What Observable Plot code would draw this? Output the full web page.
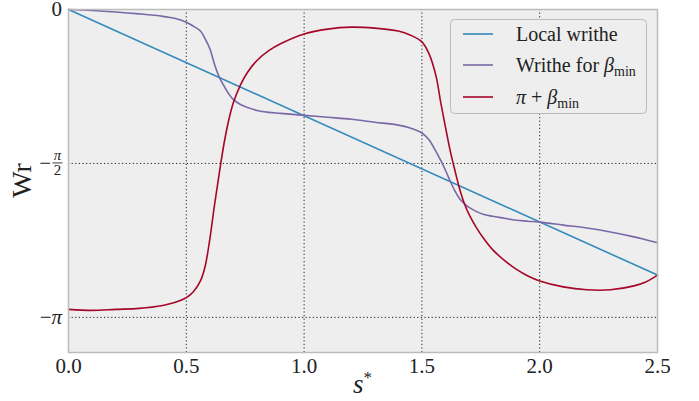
<!DOCTYPE html>
<html><head><meta charset="utf-8">
<script src="https://cdn.jsdelivr.net/npm/d3@7"></script>
<script src="https://cdn.jsdelivr.net/npm/@observablehq/plot@0.6"></script>
<style>body{margin:0;background:#fff}</style>
</head><body><div id="chart"></div>
<script>
const sGrid = [0,0.1,0.2,0.3,0.4,0.45,0.5,0.53,0.56,0.58,0.6,0.62,0.64,0.66,0.68,0.7,0.73,0.76,0.8,0.85,0.9,1.0,1.1,1.2,1.3,1.4,1.45,1.5,1.53,1.56,1.58,1.6,1.62,1.64,1.66,1.68,1.7,1.73,1.76,1.8,1.85,1.9,1.95,2.0,2.1,2.2,2.3,2.4,2.45,2.5];
const writheBeta = [0,-0.01,-0.025,-0.045,-0.07,-0.09,-0.13,-0.17,-0.22,-0.30,-0.40,-0.56,-0.69,-0.78,-0.86,-0.92,-0.97,-1.00,-1.03,-1.05,-1.06,-1.08,-1.10,-1.12,-1.15,-1.18,-1.21,-1.26,-1.33,-1.45,-1.54,-1.64,-1.75,-1.85,-1.93,-1.98,-2.02,-2.06,-2.09,-2.11,-2.13,-2.15,-2.16,-2.17,-2.20,-2.23,-2.27,-2.32,-2.35,-2.38];
const piBeta = [-3.06,-3.07,-3.06,-3.05,-3.02,-2.99,-2.94,-2.88,-2.77,-2.62,-2.34,-1.99,-1.67,-1.37,-1.13,-0.95,-0.77,-0.64,-0.52,-0.42,-0.35,-0.25,-0.20,-0.18,-0.19,-0.22,-0.26,-0.33,-0.45,-0.68,-0.95,-1.20,-1.44,-1.64,-1.83,-1.98,-2.09,-2.22,-2.33,-2.45,-2.56,-2.65,-2.72,-2.77,-2.83,-2.86,-2.86,-2.82,-2.78,-2.71];
const localS = [0, 2.5];
const localWr = [0, -2.71];
const xTicks = [0, 0.5, 1.0, 1.5, 2.0, 2.5];
const yTicks = [0, -Math.PI/2, -Math.PI];
const seriesNames = ["Local writhe", "Writhe for β_min", "π + β_min"];
const colors = ["#348ABD", "#7A68A6", "#A60628"];

const local = localS.map((s,i)=>({s, v: localWr[i]}));
const purple = sGrid.map((s,i)=>({s, v: writheBeta[i]}));
const red = sGrid.map((s,i)=>({s, v: piBeta[i]}));

const FONT = "Liberation Serif";
const plot = Plot.plot({
  width: 699, height: 401,
  marginLeft: 68, marginRight: 42, marginTop: 9, marginBottom: 49,
  style: {fontFamily: FONT, fontSize: "20px", background: "#fff", color: "#222"},
  x: {domain: [0, 2.5], label: null, axis: null},
  y: {domain: [-3.5, 0], label: null, axis: null},
  marks: [
    Plot.frame({fill: "#eeeeee"}),
    Plot.ruleX(xTicks.slice(1, -1), {stroke: "#222", strokeDasharray: "1.2,2.4", strokeWidth: 1}),
    Plot.ruleY(yTicks.slice(1), {stroke: "#222", strokeDasharray: "1.2,2.4", strokeWidth: 1}),
    Plot.line(local, {x: "s", y: "v", stroke: colors[0], strokeWidth: 1.6}),
    Plot.line(purple, {x: "s", y: "v", stroke: colors[1], strokeWidth: 1.6, curve: "catmull-rom"}),
    Plot.line(red, {x: "s", y: "v", stroke: colors[2], strokeWidth: 1.6, curve: "catmull-rom"}),
    Plot.frame({stroke: "#bcbcbc", strokeWidth: 1.5}),
    Plot.axisX(xTicks, {tickSize: 0, tickPadding: 6, tickFormat: d3.format(".1f"), fontSize: 21, label: null}),
  ]
});
document.getElementById("chart").appendChild(plot);

const svg = d3.select(plot);
const xs = plot.scale("x"), ys = plot.scale("y");
const g = svg.append("g").attr("font-family", FONT).attr("fill", "#222").attr("text-anchor", "start");
// y tick labels
g.append("text").attr("x", 62).attr("y", ys.apply(0)).attr("dy", "0.35em")
  .attr("text-anchor", "end").attr("font-size", 21).text("0");
const tPi = g.append("text").attr("x", 62).attr("y", ys.apply(-Math.PI)).attr("dy", "0.35em")
  .attr("text-anchor", "end").attr("font-size", 21);
tPi.append("tspan").text("−");
tPi.append("tspan").attr("font-style", "italic").text("π");
const yh = ys.apply(-Math.PI/2);
g.append("text").attr("x", 51).attr("y", yh).attr("dy", "0.35em").attr("text-anchor", "end").attr("font-size", 21).text("−");
g.append("text").attr("x", 57.5).attr("y", yh - 3).attr("text-anchor", "middle").attr("font-size", 15).attr("font-style", "italic").text("π");
g.append("line").attr("x1", 52.5).attr("x2", 62.5).attr("y1", yh).attr("y2", yh).attr("stroke", "#222").attr("stroke-width", 0.9);
g.append("text").attr("x", 57.5).attr("y", yh + 12.5).attr("text-anchor", "middle").attr("font-size", 15).text("2");
// axis labels
g.append("text").attr("transform", `translate(31,${(ys.apply(0)+ys.apply(-3.5))/2}) rotate(-90)`)
  .attr("text-anchor", "middle").attr("font-size", 28).text("Wr");
const xl = g.append("text").attr("x", (xs.apply(0)+xs.apply(2.5))/2).attr("y", 393)
  .attr("text-anchor", "middle").attr("font-size", 27);
xl.append("tspan").attr("font-style", "italic").text("s");
xl.append("tspan").attr("font-size", 17).attr("dy", -10).text("*");
// legend
const lg = svg.append("g").attr("font-family", FONT).attr("fill", "#222").attr("text-anchor", "start");
lg.append("rect").attr("x", 450.5).attr("y", 19.5).attr("width", 196).attr("height", 94).attr("rx", 4)
  .attr("fill", "#eeeeee").attr("stroke", "#bbbbbb").attr("stroke-width", 1);
const rowsY = [34, 65, 97];
rowsY.forEach((y, i) => {
  lg.append("line").attr("x1", 463).attr("x2", 493).attr("y1", y).attr("y2", y).attr("stroke", colors[i]).attr("stroke-width", 1.6);
});
lg.append("text").attr("x", 516).attr("y", rowsY[0]).attr("dy", "0.35em").attr("font-size", 20).text(seriesNames[0]);
const t2 = lg.append("text").attr("x", 516).attr("y", rowsY[1]).attr("dy", "0.35em").attr("font-size", 20);
t2.append("tspan").text("Writhe for ");
t2.append("tspan").attr("font-style", "italic").text("β");
t2.append("tspan").attr("font-size", 14).attr("dy", 4).text("min");
const t3 = lg.append("text").attr("x", 516).attr("y", rowsY[2]).attr("dy", "0.35em").attr("font-size", 20);
t3.append("tspan").attr("font-style", "italic").text("π");
t3.append("tspan").text(" + ");
t3.append("tspan").attr("font-style", "italic").text("β");
t3.append("tspan").attr("font-size", 14).attr("dy", 4).text("min");
</script></body></html>
